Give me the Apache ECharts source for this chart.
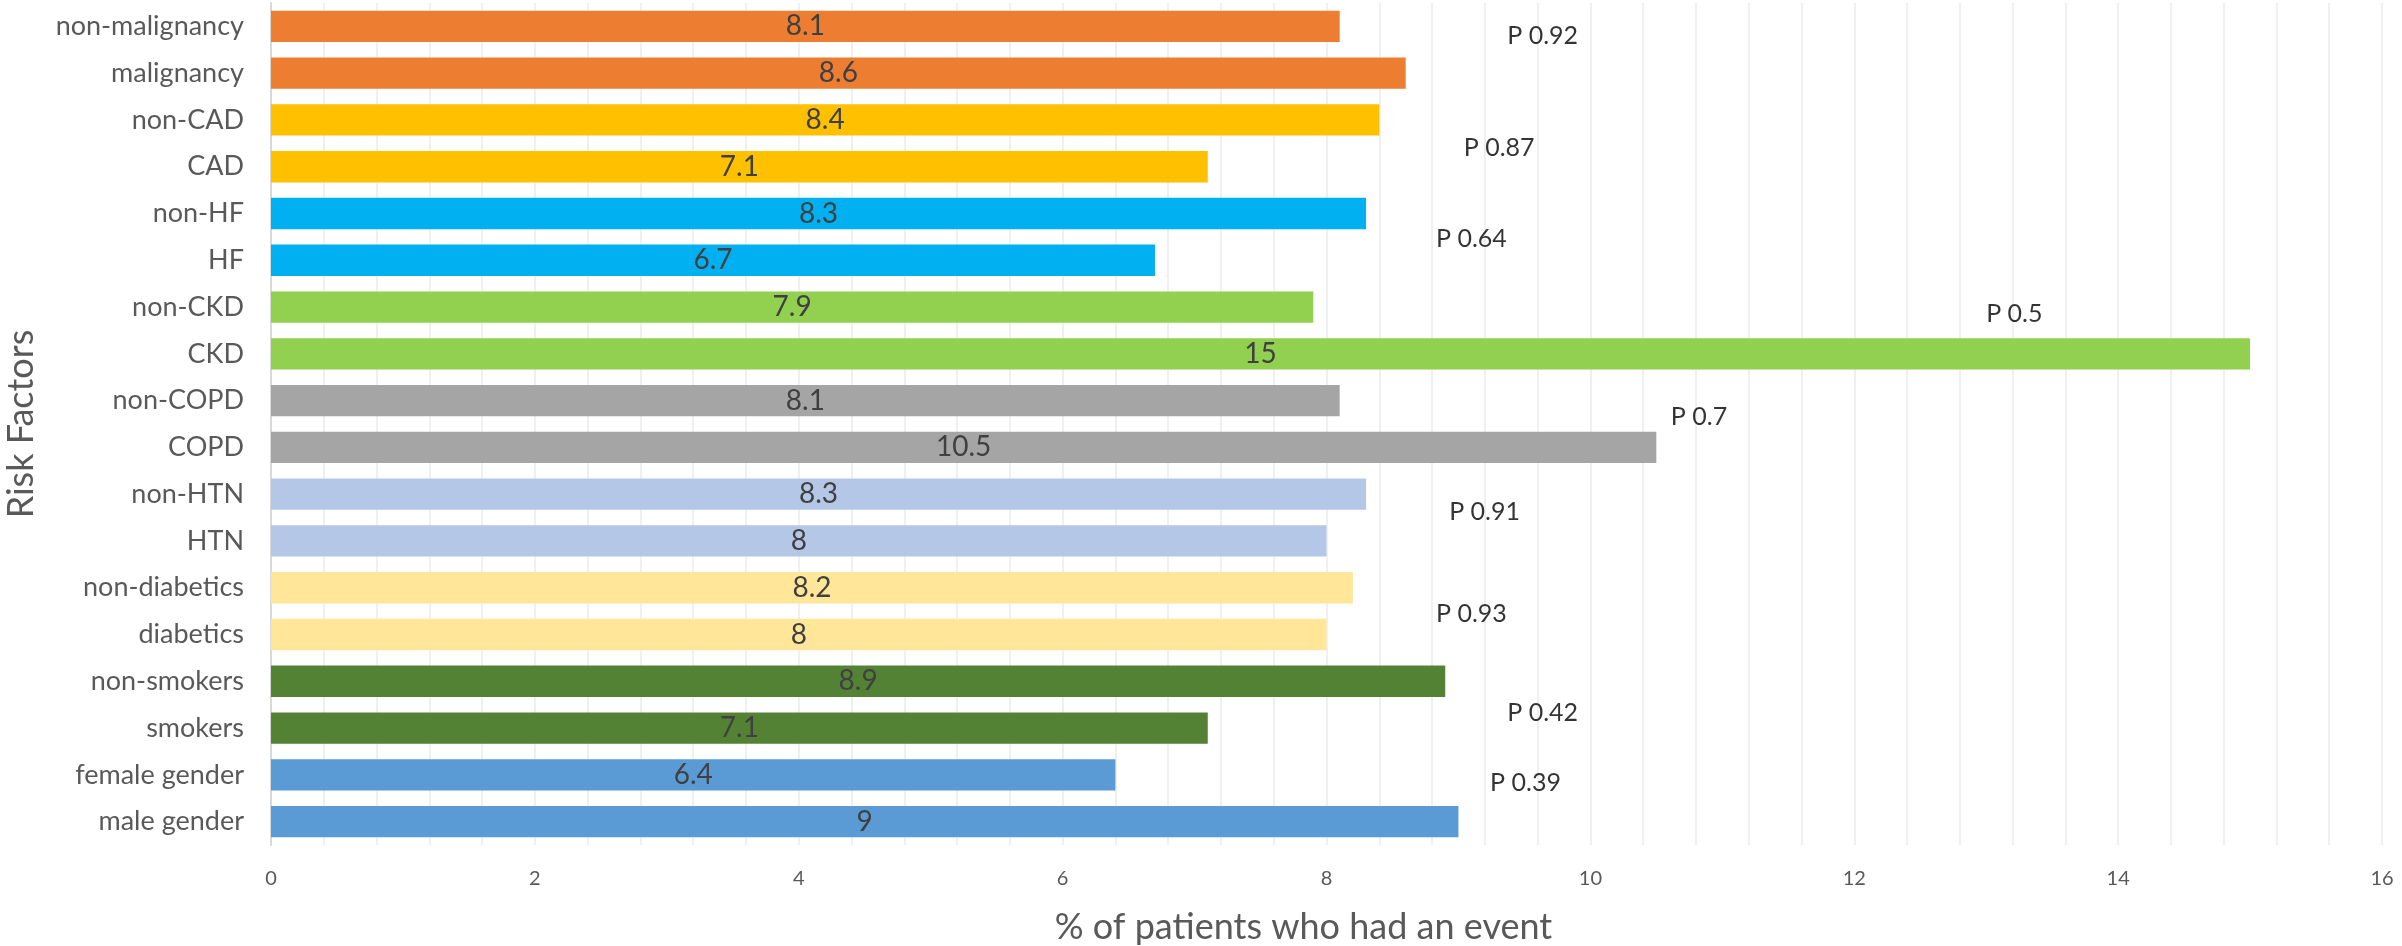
<!DOCTYPE html>
<html>
<head>
<meta charset="utf-8">
<script src="https://cdn.jsdelivr.net/npm/echarts@6/dist/echarts.min.js"></script>
<style>
  html, body { margin: 0; padding: 0; background: #ffffff; }
  #chart { width: 2402px; height: 946px; }
</style>
</head>
<body>
<div id="chart"></div>
<script>
// Risk factor groups, listed top to bottom
const categories = [
  'non-malignancy', 'malignancy',
  'non-CAD', 'CAD',
  'non-HF', 'HF',
  'non-CKD', 'CKD',
  'non-COPD', 'COPD',
  'non-HTN', 'HTN',
  'non-diabetics', 'diabetics',
  'non-smokers', 'smokers',
  'female gender', 'male gender'
];

// % of patients who had an event
const eventRates = [8.1, 8.6, 8.4, 7.1, 8.3, 6.7, 7.9, 15, 8.1, 10.5, 8.3, 8, 8.2, 8, 8.9, 7.1, 6.4, 9];

// One colour per risk-factor pair
const barColors = [
  '#ED7D31', '#ED7D31',
  '#FFC000', '#FFC000',
  '#00B0F0', '#00B0F0',
  '#92D050', '#92D050',
  '#A5A5A5', '#A5A5A5',
  '#B4C7E7', '#B4C7E7',
  '#FFE699', '#FFE699',
  '#548235', '#548235',
  '#5B9BD5', '#5B9BD5'
];

// P-value annotations: text, x in % units, row position (0 = top of first category)
const pValueTexts = ['P 0.92', 'P 0.87', 'P 0.64', 'P 0.5', 'P 0.7', 'P 0.91', 'P 0.93', 'P 0.42', 'P 0.39'];
const pValueX     = [9.37, 9.04, 8.83, 13.0, 10.61, 8.93, 8.83, 9.37, 9.24];
const pValueRow   = [0.71, 3.09, 5.05, 6.64, 8.84, 10.87, 13.07, 15.18, 16.68];

const xTickMax = 16;
const xTickStep = 2;

const FONT = 'Lato, "Open Sans", sans-serif';

const chart = echarts.init(document.getElementById('chart'), null, { renderer: 'canvas' });

chart.setOption({
  backgroundColor: '#ffffff',
  animation: false,
  grid: {
    left: 271,
    right: 20,
    top: 3,
    bottom: 101,
    containLabel: false,
    outerBoundsMode: 'none'
  },
  xAxis: {
    type: 'value',
    min: 0,
    max: xTickMax,
    interval: xTickStep,
    name: '% of patients who had an event',
    nameLocation: 'middle',
    nameGap: 64,
    nameTextStyle: { fontFamily: FONT, fontSize: 36, color: '#595959', padding: [0, 46, 0, 0] },
    axisLine: { show: false },
    axisTick: { show: false },
    axisLabel: { fontFamily: FONT, fontSize: 20, color: '#595959', margin: 24 },
    splitLine: { show: true, lineStyle: { color: '#EBEBEB', width: 1.5 } },
    minorTick: { show: false, splitNumber: 5 },
    minorSplitLine: { show: true, lineStyle: { color: '#EBEBEB', width: 1.5 } }
  },
  yAxis: [
    {
      type: 'category',
      inverse: true,
      data: categories,
      name: 'Risk Factors',
      nameLocation: 'middle',
      nameGap: 232,
      nameRotate: 90,
      nameTextStyle: { fontFamily: FONT, fontSize: 36, color: '#595959' },
      axisLine: { show: true, lineStyle: { color: '#D9D9D9', width: 2 } },
      axisTick: { show: false },
      axisLabel: { fontFamily: FONT, fontSize: 27, color: '#595959', margin: 27 },
      splitLine: { show: false }
    },
    {
      type: 'value',
      min: 0,
      max: categories.length,
      inverse: true,
      show: false
    }
  ],
  series: [
    {
      type: 'bar',
      xAxisIndex: 0,
      yAxisIndex: 0,
      barCategoryGap: '33%',
      data: eventRates.map((v, i) => ({ value: v, itemStyle: { color: barColors[i] } })),
      label: {
        show: true,
        position: 'inside',
        fontFamily: FONT,
        fontSize: 28,
        color: '#404040',
        formatter: p => String(p.value)
      },
      emphasis: { disabled: true }
    },
    {
      type: 'scatter',
      xAxisIndex: 0,
      yAxisIndex: 1,
      symbolSize: 0,
      silent: true,
      data: pValueTexts.map((t, i) => ({ name: t, value: [pValueX[i], pValueRow[i]] })),
      label: {
        show: true,
        position: 'right',
        distance: 0,
        fontFamily: FONT,
        fontSize: 25,
        color: '#000000',
        formatter: p => p.name
      }
    }
  ]
});
</script>
</body>
</html>
